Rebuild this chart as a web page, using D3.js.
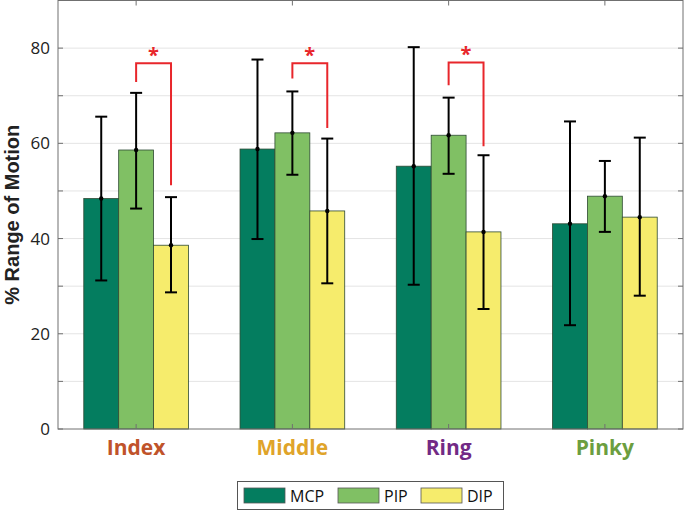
<!DOCTYPE html>
<html><head><meta charset="utf-8">
<script src="https://cdn.jsdelivr.net/npm/d3@7"></script>
<style>body{margin:0;background:#fff}svg{display:block}</style>
</head><body>
<script>
const categories = ["Index","Middle","Ring","Pinky"];
const categoryColors = ["#c0532a","#dfa42a","#722a85","#6c9e3f"];
const joints = ["MCP","PIP","DIP"];
const jointColors = ["#047d5f","#80c064","#f6ec6c"];
// mean, lower, upper per category, per joint
const means = {
  MCP:[48.4,58.8,55.2,43.1],
  PIP:[58.6,62.2,61.7,48.9],
  DIP:[38.6,45.8,41.4,44.5]
};
const lower = {
  MCP:[31.2,39.9,30.3,21.8],
  PIP:[46.3,53.4,53.6,41.4],
  DIP:[28.7,30.6,25.2,28.0]
};
const upper = {
  MCP:[65.6,77.6,80.2,64.6],
  PIP:[70.6,70.9,69.6,56.3],
  DIP:[48.7,61.0,57.5,61.2]
};
const yTicks = [0,20,40,60,80];
const yGrid = [10,20,30,40,50,60,70,80];
// significance brackets
const sigCats = ["Index","Middle","Ring"];
const sigLevel = [76.8,76.8,77.0];
const sigLeftEnd = [72.9,73.6,72.2];
const sigRightEnd = [51.2,63.2,59.4];

const W=685,H=510;
const m={l:58,r:2,t:0.5,b:81};
const svg=d3.select("body").append("svg").attr("width",W).attr("height",H);
const x0=d3.scaleBand().domain(categories).range([m.l,W-m.r]).paddingInner(0.33).paddingOuter(0.165);
const x1=d3.scaleBand().domain(joints).range([0,x0.bandwidth()]);
const y=d3.scaleLinear().domain([0,90]).range([H-m.b,m.t]);
const FONT="Open Sans, sans-serif";

// grid
svg.append("g").selectAll("line").data(yGrid).join("line")
  .attr("x1",m.l).attr("x2",W-m.r).attr("y1",d=>y(d)).attr("y2",d=>y(d))
  .attr("stroke","#e4e4e4").attr("stroke-width",1);

// bars
const g=svg.append("g");
joints.forEach((j,ji)=>{
  g.selectAll(null).data(categories).join("rect")
    .attr("x",(c)=>x0(c)+x1(j)).attr("width",x1.bandwidth())
    .attr("y",(c,i)=>y(means[j][i])).attr("height",(c,i)=>y(0)-y(means[j][i]))
    .attr("fill",jointColors[ji]).attr("stroke","#2e4a34").attr("stroke-width",0.8);
});
// error bars
joints.forEach((j)=>{
  categories.forEach((c,i)=>{
    const cx=x0(c)+x1(j)+x1.bandwidth()/2;
    const eg=svg.append("g").attr("stroke","#000").attr("stroke-width",2);
    eg.append("line").attr("x1",cx).attr("x2",cx).attr("y1",y(lower[j][i])).attr("y2",y(upper[j][i]));
    eg.append("line").attr("x1",cx-6).attr("x2",cx+6).attr("y1",y(lower[j][i])).attr("y2",y(lower[j][i]));
    eg.append("line").attr("x1",cx-6).attr("x2",cx+6).attr("y1",y(upper[j][i])).attr("y2",y(upper[j][i]));
    svg.append("circle").attr("cx",cx).attr("cy",y(means[j][i])).attr("r",2.2).attr("fill","#000");
  });
});

// frame
const fr=svg.append("g").attr("stroke","#707070").attr("stroke-width",1).attr("fill","none");
fr.append("rect").attr("x",m.l).attr("y",m.t).attr("width",W-m.r-m.l).attr("height",y(0)-m.t);
yGrid.concat([0]).forEach(d=>{
  fr.append("line").attr("x1",m.l).attr("x2",m.l+5).attr("y1",y(d)).attr("y2",y(d));
  fr.append("line").attr("x1",W-m.r-5).attr("x2",W-m.r).attr("y1",y(d)).attr("y2",y(d));
});
categories.forEach(c=>{
  const cx=x0(c)+x0.bandwidth()/2;
  fr.append("line").attr("x1",cx).attr("x2",cx).attr("y1",m.t).attr("y2",m.t+5);
  fr.append("line").attr("x1",cx).attr("x2",cx).attr("y1",y(0)).attr("y2",y(0)-5);
});

// y tick labels
svg.append("g").selectAll("text").data(yTicks).join("text")
  .attr("x",50).attr("y",d=>y(d)).attr("dy","0.36em").attr("text-anchor","end")
  .attr("font-family",FONT).attr("font-size",17).attr("fill","#222")
  .text(d=>d);
// category labels
svg.append("g").selectAll("text").data(categories).join("text")
  .attr("x",c=>x0(c)+x0.bandwidth()/2).attr("y",455).attr("text-anchor","middle")
  .attr("font-family",FONT).attr("font-weight","bold").attr("font-size",21)
  .attr("fill",(c,i)=>categoryColors[i]).text(c=>c);
// y title
svg.append("text").attr("transform",`translate(19,${y(45)}) rotate(-90)`).attr("text-anchor","middle")
  .attr("font-family","Liberation Sans, Arial, sans-serif").attr("font-weight","bold").attr("font-size",20)
  .attr("fill","#222").text("% Range of Motion");

// significance
sigCats.forEach((c,i)=>{
  const xl=x0(c)+x1("PIP")+x1.bandwidth()/2, xr=x0(c)+x1("DIP")+x1.bandwidth()/2;
  svg.append("path").attr("d",`M${xl},${y(sigLeftEnd[i])}V${y(sigLevel[i])}H${xr}V${y(sigRightEnd[i])}`)
    .attr("fill","none").attr("stroke","#e8262b").attr("stroke-width",2);
  svg.append("text").attr("x",(xl+xr)/2).attr("y",y(sigLevel[i])-1).attr("text-anchor","middle")
    .attr("font-family",FONT).attr("font-weight","bold").attr("font-size",20)
    .attr("fill","#e8262b").text("*");
});

// legend
const lg=svg.append("g");
lg.append("rect").attr("x",237.5).attr("y",481.5).attr("width",266).attr("height",28)
  .attr("fill","#fff").attr("stroke","#555");
const lx=[244,338,421];
joints.forEach((j,i)=>{
  lg.append("rect").attr("x",lx[i]).attr("y",488).attr("width",41).attr("height",15)
    .attr("fill",jointColors[i]).attr("stroke","#555").attr("stroke-width",0.8);
  lg.append("text").attr("x",lx[i]+46).attr("y",496).attr("dy","0.36em")
    .attr("font-family",FONT).attr("font-size",16).attr("fill","#111").text(j);
});
</script>
</body></html>
